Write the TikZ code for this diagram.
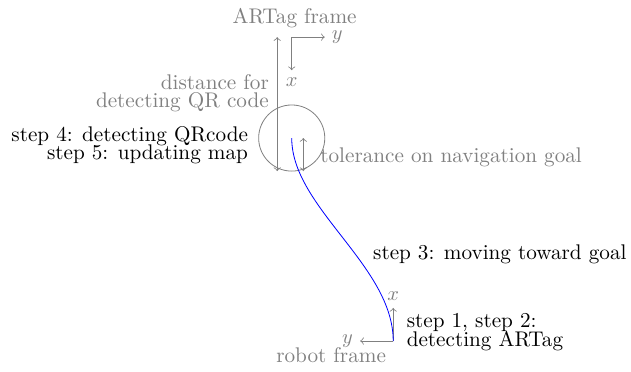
\documentclass[tikz,border=0pt]{standalone}
\usetikzlibrary{arrows.meta,positioning}
\begin{document}
\begin{tikzpicture}[>=to, axis/.style={gray,->}, lbl/.style={text=gray},
    every node/.style={font=\fontsize{10.4}{12}\selectfont}]
    \useasboundingbox (-6.78,-0.52) rectangle (4.10,5.88);
    \pgfmathsetmacro{\L}{0.57}  % axis length
    \coordinate (robot) at (0,0);
    \coordinate (artag) at (-1.75,5.24);
    \coordinate (goal) at (-1.75,3.5);
    % robot frame
    \coordinate (rx) at (0,\L);
    \coordinate (ry) at (-\L,0);
    \draw[axis] (robot) -- (rx);
    \draw[axis] (robot) -- (ry);
    \node[lbl, above=0pt of rx] (rxl) {$x$};
    \node[lbl, left=0pt of ry] (ryl) {$y$};
    \node[lbl] (robotl) at (-1.07,-0.24) {robot frame};
    % ARTag frame
    \coordinate (ax) at (-1.75,5.24-\L);
    \coordinate (ay) at (-1.75+\L,5.24);
    \draw[axis] (artag) -- (ax);
    \draw[axis] (artag) -- (ay);
    \node[lbl, below=0pt of ax] (axl) {$x$};
    \node[lbl, right=0pt of ay] (ayl) {$y$};
    \node[lbl, inner sep=1pt] (artagl) at (-1.70,5.57) {ARTag frame};
    % goal and tolerance
    \draw[gray] (goal) circle (\L);
    \coordinate (dtop) at (-2.0,5.24);
    \coordinate (dbot) at (-2.0,3.5-\L);
    \draw[gray,<->] (dtop) -- (dbot);
    \coordinate (ttop) at (-1.55,3.5);
    \coordinate (tbot) at (-1.55,3.5-\L);
    \draw[gray,<->] (ttop) -- (tbot);
    \node[lbl, align=right, anchor=east] (distl) at (-2.02,4.27) {distance for\\[-3pt]detecting QR code};
    \node[lbl, anchor=west] (toll) at (-1.38,3.17) {tolerance on navigation goal};
    \node[align=right, anchor=east] (step45) at (-2.38,3.38) {step 4: detecting QRcode\\[-3pt]step 5: updating map};
    % path
    \draw[blue] (robot) .. controls (0,1.3) and (-1.75,2.3) .. (goal);
    \node[anchor=west] (step3) at (-0.47,1.5) {step 3: moving toward goal};
    \node[align=left, anchor=west] (step12) at (0.11,0.155) {step 1, step 2:\\[-3pt]detecting ARTag};
\end{tikzpicture}
\end{document}
